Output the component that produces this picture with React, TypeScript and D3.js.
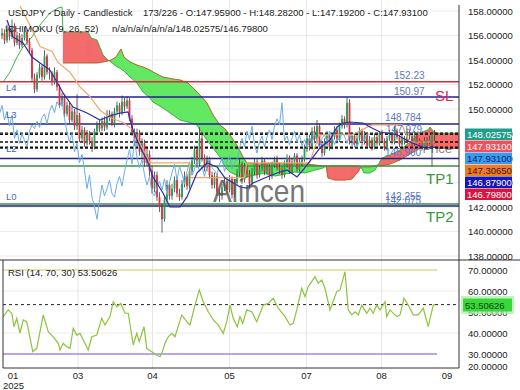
import React from "react";
import * as d3 from "d3";

const W = 520;
const H = 390;

// ---------- candles (daily USDJPY) ----------
const firstOpen = 156.0;
const closes = [
  156.2, 155.6, 156.5, 155.9, 156.8, 155.4, 156.0, 155.2, 155.8, 156.3,
  155.5, 154.8, 152.5, 151.6, 152.8, 153.4, 152.6, 154.3, 153.0, 152.9,
  152.2, 153.0, 151.8, 150.4, 150.9, 149.6, 150.3, 149.1, 149.8, 148.6,
  149.5, 147.6, 148.3, 147.2, 148.0, 147.4, 146.9, 148.2, 148.7, 148.4,
  149.0, 148.5, 149.3, 149.6, 148.8, 149.8, 150.3, 149.7, 150.6, 150.2,
  150.7, 149.2, 148.1, 147.3, 148.0, 146.5, 147.2, 145.6, 146.3, 145.0,
  143.5, 144.6, 142.8, 142.0, 141.0, 142.6, 143.8, 142.9, 143.5, 144.2,
  143.1, 142.8, 143.9, 144.5, 143.7, 144.9, 145.8, 146.7, 145.5, 147.6,
  146.0, 145.2, 145.9, 144.6, 143.8, 144.5, 143.2, 142.9, 143.6, 144.1,
  143.4, 144.3, 143.0, 144.0, 144.8, 145.5, 144.2, 145.3, 144.7, 143.9,
  144.9, 145.7, 144.6, 145.1, 145.8, 144.9, 145.3, 144.5, 145.4, 145.9,
  145.2, 145.0, 144.6, 145.5, 146.0, 144.9, 145.7, 146.2, 145.1, 145.6,
  145.9, 146.8, 147.6, 146.9, 148.2, 147.5, 148.6, 147.1, 146.4, 147.3,
  147.8, 146.9, 147.7, 148.3, 147.5, 148.6, 149.2, 148.7, 150.5, 147.4,
  147.8, 147.1, 147.6, 148.2, 147.3, 147.9, 147.0, 147.5, 146.9, 147.7,
  147.2, 148.0, 147.4, 146.8, 147.6, 147.9, 147.3, 148.2, 147.7, 147.1,
  147.6, 147.4, 148.1, 147.8, 147.2, 147.9, 147.5, 147.0, 146.9, 147.4,
  147.3, 147.5, 147.959, 147.931,
];
const highs = [
  156.6, 156.5, 156.9, 156.7, 157.3, 157.0, 156.3, 156.2, 156.1, 156.7,
  156.5, 155.8, 155.0, 152.9, 153.0, 153.7, 153.6, 154.8, 154.5, 153.4,
  153.1, 153.4, 153.2, 152.0, 151.3, 151.1, 150.6, 150.5, 150.2, 150.0,
  151.2, 149.7, 148.6, 148.5, 148.3, 148.2, 147.7, 148.4, 149.0, 149.1,
  149.3, 149.4, 149.9, 149.9, 149.8, 150.1, 150.6, 150.5, 151.1, 150.9,
  151.0, 150.9, 149.5, 148.4, 148.4, 148.3, 147.6, 147.5, 146.8, 146.6,
  145.4, 144.9, 144.9, 143.2, 142.3, 142.9, 144.2, 144.0, 143.9, 144.5,
  144.4, 143.5, 144.2, 144.9, 144.7, 145.2, 146.1, 147.0, 147.0, 148.5,
  147.9, 146.3, 146.2, 146.1, 144.9, 144.8, 144.7, 143.5, 143.9, 144.4,
  144.4, 144.6, 144.5, 144.3, 145.1, 145.9, 145.7, 145.6, 145.5, 145.0,
  145.2, 146.0, 145.9, 145.4, 146.1, 146.0, 145.6, 145.5, 145.7, 146.1,
  146.2, 145.6, 145.3, 145.8, 146.3, 146.2, 146.0, 146.4, 146.4, 145.9,
  146.2, 147.1, 147.9, 147.9, 148.5, 148.6, 149.1, 148.8, 147.4, 147.6,
  148.2, 148.0, 147.9, 148.6, 148.5, 148.9, 149.5, 149.4, 150.97, 150.8,
  148.1, 148.0, 147.9, 148.5, 148.4, 148.2, 148.1, 147.8, 147.7, 148.0,
  147.9, 148.2, 148.3, 147.6, 147.8, 148.3, 148.1, 148.6, 148.4, 147.9,
  147.9, 147.8, 148.4, 148.3, 147.9, 148.2, 148.0, 147.6, 147.3, 147.7,
  147.7, 147.8, 148.1, 148.282,
];
const lows = [
  155.7, 155.3, 155.4, 155.6, 155.7, 155.1, 155.2, 154.9, 155.0, 155.6,
  155.2, 154.5, 152.2, 151.3, 151.4, 152.5, 152.3, 152.4, 152.8, 152.4,
  151.9, 152.0, 151.5, 150.1, 150.2, 149.3, 149.4, 148.8, 148.9, 148.3,
  148.3, 147.3, 147.3, 146.9, 147.0, 147.1, 146.5, 146.7, 147.9, 148.1,
  148.2, 148.2, 148.3, 149.0, 148.6, 148.5, 149.5, 149.3, 149.5, 149.8,
  150.0, 149.0, 147.8, 147.0, 146.9, 146.2, 146.0, 145.3, 145.3, 144.5,
  143.1, 143.2, 142.5, 141.6, 139.9, 140.8, 142.3, 142.6, 142.6, 143.2,
  142.8, 142.5, 142.6, 143.6, 143.4, 143.5, 144.6, 145.5, 145.2, 145.3,
  145.7, 144.9, 144.9, 144.3, 143.5, 143.5, 142.9, 142.4, 142.6, 143.3,
  143.1, 143.2, 142.7, 142.8, 143.8, 144.5, 143.9, 144.0, 144.4, 143.5,
  143.7, 144.6, 144.3, 144.4, 144.9, 144.6, 144.6, 144.2, 144.3, 145.2,
  145.0, 144.7, 144.3, 144.4, 145.2, 144.7, 144.7, 145.5, 144.9, 144.9,
  145.3, 145.7, 146.5, 146.6, 146.7, 147.2, 147.3, 146.9, 146.1, 146.2,
  147.0, 146.6, 146.7, 147.5, 147.2, 147.3, 148.4, 148.4, 148.5, 147.1,
  147.0, 146.9, 146.8, 147.4, 147.0, 147.1, 146.8, 146.8, 146.6, 146.7,
  147.0, 147.0, 147.2, 146.6, 146.6, 147.4, 147.1, 147.1, 147.5, 146.9,
  146.9, 147.1, 147.2, 147.5, 147.0, 147.0, 147.3, 146.8, 146.6, 146.7,
  147.0, 147.1, 145.3, 147.192,
];

// ---------- Ichimoku lines ----------
const tenkanIdx = [2, 4.4, 8.4, 12, 15.2, 19.2, 22, 24.4, 28.4, 34, 39.2, 43.2, 47.2, 50.4, 52.4, 55.2, 58, 60.4, 64.4, 67.2, 71.2, 74, 78, 82, 86, 89.2, 95.2, 98, 100.4, 106, 110, 114, 118, 120.4, 124.4, 127.2, 131.2, 134, 136.4, 139.2, 144.4, 147.2, 151.2, 158, 163.2, 169.2, 173.2];
const tenkanVal = [157.27, 155.88, 155.39, 154.24, 153.76, 153.18, 152.2, 151.31, 150.16, 149.67, 149.1, 149.43, 149.67, 149.76, 148.29, 146.9, 145.84, 144.45, 143.14, 142.0, 142.0, 142.82, 144.78, 145.59, 145.27, 144.37, 143.63, 143.55, 143.96, 144.45, 144.78, 145.02, 144.45, 145.02, 146.08, 146.82, 147.47, 148.53, 148.86, 148.94, 148.86, 148.53, 148.12, 147.9, 147.3, 146.82, 146.879];

const kijunIdx = [7.2, 10, 12, 15.2, 20, 22.4, 27.2, 31.2, 35.2, 39.2, 43.2, 48.4, 52.4, 59.2, 75, 75.4, 87, 97, 98, 123, 126, 127, 140, 148, 160, 163, 173.2];
const kijunVal = [158.4, 157.3, 156.5, 155.1, 154.7, 153.8, 153.0, 151.8, 151.0, 149.9, 149.3, 148.9, 148.3, 145.6, 145.6, 144.4, 144.4, 144.4, 145.6, 145.6, 147.4, 147.9, 147.9, 148.7, 148.7, 147.3, 147.3065];

const cloudIdx = [0.4, 3.2, 6, 8.4, 12, 15.2, 19.2, 22.4, 24,
  24.4, 34.4, 35.6, 38, 40.4, 42.4, 43.6, 45.6, 47.6, 48.8,
  51.2, 54, 56.4, 59.2, 60.4, 64.4, 68.4, 71.2, 74.4, 78,
  79.2, 82, 84.4, 87.2, 89.2, 91.2, 94.4, 96.4, 98, 101.2,
  105.2, 109.2, 113.2, 117.2, 121.2, 125.2, 128.4, 129.6, 130.4, 133.2,
  137.2, 140, 142.4, 143.6, 144.8, 147.2, 149.2, 150.4, 152, 155.2,
  159.2, 163.2, 166, 168, 170.4, 171.2, 172.4, 174, 183.2];
const spanA: (number | null)[] = [null, null, null, null, null, null, null, null, null,
  153.76, 153.76, 153.76, 153.76, 153.84, 153.92, 154.0, 154.24, 154.9, 154.24,
  153.84, 153.59, 153.43, 153.18, 153.02, 152.61, 152.45, 152.37, 152.12, 151.39,
  151.14, 150.49, 149.51, 148.69, 148.37, 147.88, 146.9, 146.08, 145.59, 145.51,
  145.51, 145.59, 145.51, 145.51, 145.51, 145.43, 145.35, 145.35, 144.37, 144.2,
  144.2, 144.29, 144.86, 145.27, 145.27, 145.27, 145.35, 145.43, 145.35, 145.51,
  145.84, 146.33, 146.65, 146.9, 146.98, 146.98, 146.98, 146.798, 146.798];
const spanB = [152.2, 153.02, 154.24, 155.06, 155.88, 156.86, 157.84, 158.24, 158.33,
  156.29, 156.29, 155.8, 155.63, 154.41, 154.0, 153.84, 153.51, 153.27, 153.1,
  152.61, 152.12, 151.39, 150.9, 150.57, 150.08, 149.51, 149.1, 148.94, 148.69,
  148.29, 147.47, 146.82, 146.08, 145.27, 144.86, 144.53, 144.37, 144.45, 144.61,
  144.78, 144.53, 144.69, 144.86, 144.78, 145.02, 145.18, 145.35, 145.35, 145.35,
  145.35, 145.35, 145.35, 145.27, 144.78, 144.78, 145.02, 145.43, 146.0, 146.24,
  146.65, 147.31, 147.88, 148.12, 148.29, 148.53, 148.2, 148.026, 148.026];

// ---------- RSI ----------
const rsiIdx = [0.5, 2.5, 3.9, 4.8, 5.9, 7.2, 8.5, 9.9, 12.3, 13.9, 16.5, 18.5, 20.5, 22.5, 23.2, 24.5, 25.9, 27.2, 28.5, 29.9, 31.2, 34.5, 35.9, 37.9, 39.9, 41.2, 43.2, 44.5, 45.9, 47.5, 49.2, 50.5, 52.5, 53.9, 54.9, 56.8, 57.9, 59.9, 61.9, 63.2, 63.9, 65.2, 66.5, 67.9, 69.2, 71.9, 73.9, 75.2, 77.2, 78.9, 80.5, 82.5, 84.5, 86.5, 88.5, 89.9, 91.2, 92.5, 94.1, 95.2, 96.3, 97.9, 99.9, 101.9, 104.5, 106.5, 108.5, 110.5, 113.2, 115.2, 116.5, 117.9, 119.9, 121.2, 122.5, 125.2, 126.5, 127.9, 129.2, 131.2, 133.9, 135.2, 137.2, 138.5, 139.9, 141.2, 142.5, 143.9, 145.9, 147.2, 148.5, 149.9, 151.2, 153.2, 153.9, 155.2, 157.9, 159.2, 160.8, 162.5, 164.5, 166.5, 168.5, 170.5, 172.5, 173.2];
const rsiVal = [47.8, 51, 49.4, 43, 47, 39.9, 46.2, 45.4, 31.1, 32.7, 48.6, 40.6, 38.2, 35.1, 31.9, 35.1, 33.5, 32.7, 42.2, 39, 39.8, 31.9, 38.2, 39, 47, 43.8, 47.8, 54.9, 52.5, 54.1, 49.4, 49.4, 34.3, 39.8, 35.9, 43, 32.7, 31.1, 29.5, 28.7, 30.3, 35.1, 38.2, 39.8, 38.2, 48.6, 45.4, 43.8, 53.3, 60.5, 54.9, 50.1, 46.2, 43.8, 39.8, 45.4, 53.3, 47, 43, 47.8, 44.6, 51, 50.1, 45.4, 53.3, 54.1, 56.5, 51.8, 47.8, 43.8, 44.6, 51, 61.3, 57.3, 62.1, 66.8, 63.7, 65.2, 61.3, 51, 59.7, 60.5, 69.2, 51, 48.6, 50.1, 48.6, 53.3, 49.4, 51.8, 49.4, 53.3, 51, 54.9, 47.8, 51, 47.8, 48.6, 56.5, 53.3, 48.6, 48.6, 51.8, 43, 53.3, 53.50626];
const rsiCurrent = 53.50626;
const rsiTicks = [70, 60, 50, 40, 30, 20];

// ---------- levels / labels ----------
const priceTicks = [158, 156, 154, 152, 150, 148, 146, 144, 142, 140, 138];
const levelValues = [152.23, 150.97, 148.784, 145.96, 145.35, 142.255, 142.075];
const levelKinds = ["red", "navy", "navy", "navy", "green", "green", "navy"];
const levelLabels = ["152.23", "150.97", "148.784", "145.960", "", "142.255", "142.075"];
const levelNames = ["", "L4", "L3", "L2", "", "", "L0"];
const extraLabel = { value: 147.979, text: "147.979" };
const dottedValues = [148.02575, 147.931, 147.3065, 146.879, 146.798];
const boxValues = ["148.02575", "147.93100", "147.93100", "147.30650", "146.87900", "146.79800"];
const monthIdx = [4.4, 30.4, 60.2, 91, 121.8, 151.8, 178];
const monthLabels = ["01", "03", "04", "05", "07", "08", "09"];

const FONT = "'Liberation Sans', Arial, sans-serif";

export default function App() {
  const xS = d3.scaleLinear().domain([0, 183.2]).range([2, 460]);
  const yP = d3.scaleLinear().domain([138, 158]).range([256, 11]);
  const yR = d3.scaleLinear().domain([30, 70]).range([354, 270]);

  const opens = closes.map((c, i) => (i === 0 ? firstOpen : closes[i - 1]));

  const cloudPts = cloudIdx.map((d, i) => ({ i: d, a: spanA[i], b: spanB[i] }));

  // cloud polygons: green where span A is above span B, red otherwise
  const polys: { d: string; g: boolean }[] = [];
  const poly = (pts: number[][]) => "M" + pts.map((p) => p[0].toFixed(2) + "," + p[1].toFixed(2)).join("L") + "Z";
  for (let k = 0; k < cloudPts.length - 1; k++) {
    const p0 = cloudPts[k];
    const p1 = cloudPts[k + 1];
    if (p0.a == null || p1.a == null) continue;
    const x0 = xS(p0.i), x1 = xS(p1.i);
    const a0 = yP(p0.a), a1 = yP(p1.a), b0 = yP(p0.b), b1 = yP(p1.b);
    const d0 = p0.a - p0.b, d1 = p1.a - p1.b;
    if ((d0 >= 0 && d1 >= 0) || (d0 <= 0 && d1 <= 0)) {
      polys.push({ d: poly([[x0, a0], [x1, a1], [x1, b1], [x0, b0]]), g: d0 + d1 >= 0 });
    } else {
      const t = d0 / (d0 - d1);
      const xc = x0 + t * (x1 - x0);
      const yc = a0 + t * (a1 - a0);
      polys.push({ d: poly([[x0, a0], [xc, yc], [x0, b0]]), g: d0 > 0 });
      polys.push({ d: poly([[xc, yc], [x1, a1], [x1, b1]]), g: d1 > 0 });
    }
  }

  const lineA = d3.line<any>().defined((p) => p.a != null).x((p) => xS(p.i)).y((p) => yP(p.a))(cloudPts) || "";
  const lineB = d3.line<any>().x((p) => xS(p.i)).y((p) => yP(p.b))(cloudPts) || "";

  const tenkan = d3.line<number>().x((d, i) => xS(tenkanIdx[i])).y((d) => yP(d))(tenkanVal) || "";
  const kijun = d3.line<number>().x((d, i) => xS(kijunIdx[i])).y((d) => yP(d))(kijunVal) || "";
  const chikou = d3.line<number>().x((d, i) => xS(i - 26)).y((d) => yP(d))(closes) || "";
  const rsiLine = d3.line<number>().x((d, i) => xS(rsiIdx[i])).y((d) => yR(d))(rsiVal) || "";

  const levelColor: Record<string, string> = { red: "#d22d3c", navy: "#22228a", green: "#3f8f3f" };
  const boxFill = ["#1f9e8b", "#f0505a", "#3c9be6", "#f07a2a", "#1616b4", "#d6163e"];
  const boxText = ["#ffffff", "#ffffff", "#10208a", "#3a1a00", "#ffffff", "#ffffff"];

  const txt = { fontFamily: FONT, fontSize: 9.5, fill: "#222" } as const;

  return (
    <svg width={W} height={H} style={{ display: "block", position: "absolute", left: 0, top: 0, background: "#fff" }}>
      <defs>
        <clipPath id="mainClip"><rect x={0} y={0} width={459} height={259} /></clipPath>
      </defs>
      <rect x={0} y={0} width={W} height={H} fill="#fff" />

      {/* grid */}
      {priceTicks.map((p) => (
        <line key={"hg" + p} x1={0} x2={459} y1={yP(p)} y2={yP(p)} stroke="#ececec" />
      ))}
      {[60, 40].map((v) => (
        <line key={"rg" + v} x1={3} x2={459} y1={yR(v)} y2={yR(v)} stroke="#ececec" />
      ))}
      {monthIdx.slice(1, 6).map((m) => (
        <line key={"vg" + m} x1={xS(m)} x2={xS(m)} y1={0} y2={368} stroke="#e6e6e6" />
      ))}

      <text x={452} y={153} textAnchor="end" fontFamily={FONT} fontSize={13} fill="#888">Price</text>

      <g clipPath="url(#mainClip)">
        {/* cloud */}
        {polys.map((p, i) => (
          <path key={"cl" + i} d={p.d} fill={p.g ? "#63e863" : "#f36b6b"} stroke={p.g ? "#63e863" : "#f36b6b"} strokeWidth={0.3} />
        ))}
        <path d={lineA} fill="none" stroke="#b8642c" strokeWidth={1} />
        <path d={lineB} fill="none" stroke="#3fb34a" strokeWidth={1} />

        {/* levels */}
        {levelValues.map((v, i) => (
          <line key={"lv" + i} x1={0} x2={459} y1={yP(v)} y2={yP(v)} stroke={levelColor[levelKinds[i]]} strokeWidth={1.5} />
        ))}
        {dottedValues.map((v, i) => (
          <line key={"dv" + i} x1={0} x2={459} y1={yP(v)} y2={yP(v)} stroke="#111" strokeWidth={1.3} strokeDasharray="3,2" />
        ))}

        {/* candles */}
        {closes.map((c, i) => {
          const o = opens[i];
          const up = c >= o;
          const x = xS(i);
          const top = yP(Math.max(o, c));
          const bot = yP(Math.min(o, c));
          return (
            <g key={"c" + i}>
              <line x1={x} x2={x} y1={yP(highs[i])} y2={yP(lows[i])} stroke="#3a3a3a" strokeWidth={0.8} />
              <rect x={x - 0.9} y={top} width={1.8} height={Math.max(0.8, bot - top)} fill={up ? "#24a05a" : "#e0303e"} />
            </g>
          );
        })}

        {/* ichimoku lines */}
        <path d={chikou} fill="none" stroke="#6aaee6" strokeWidth={1} />
        <path d={kijun} fill="none" stroke="#f2a56a" strokeWidth={1.2} />
        <path d={tenkan} fill="none" stroke="#2c2cae" strokeWidth={1.2} />
      </g>

      {/* watermark */}
      <text x={213} y={202} fontFamily={FONT} fontSize={32} fill="#555" opacity={0.8} textLength={92} lengthAdjust="spacingAndGlyphs">Alincen</text>

      {/* level labels */}
      {levelValues.map((v, i) =>
        levelLabels[i] ? (
          <text key={"ll" + i} x={levelLabels[i].length === 6 ? 394 : 385} y={yP(v) - (v === 142.255 ? 4 : 2.5)} fontFamily={FONT} fontSize={10} fill="#5a78c8">{levelLabels[i]}</text>
        ) : null
      )}
      <text x={386} y={yP(extraLabel.value) - 1} fontFamily={FONT} fontSize={10} fill="#5a78c8">{extraLabel.text}</text>
      {levelValues.map((v, i) =>
        levelNames[i] ? (
          <text key={"ln" + i} x={6} y={yP(v) - 6} fontFamily={FONT} fontSize={9.5} fill="#4a66b8">{levelNames[i]}</text>
        ) : null
      )}
      <text x={435} y={101} fontFamily={FONT} fontSize={15} fill="#e0284f">SL</text>
      <text x={426} y={184} fontFamily={FONT} fontSize={15} fill="#3a963a">TP1</text>
      <text x={426} y={222} fontFamily={FONT} fontSize={15} fill="#3a963a">TP2</text>

      {/* header */}
      <text x={8} y={16} {...txt}>USDJPY - Daily - Candlestick</text>
      <text x={143} y={16} {...txt}>173/226 - O:147.95900 - H:148.28200 - L:147.19200 - C:147.93100</text>
      <text x={5} y={32} {...txt}>ICHIMOKU (9, 26, 52)</text>
      <text x={112} y={32} {...txt}>n/a/n/a/n/a/n/a/148.02575/146.79800</text>

      {/* RSI panel */}
      <line x1={3} x2={437} y1={yR(70)} y2={yR(70)} stroke="#e4da8e" strokeWidth={1.5} />
      <line x1={3} x2={437} y1={yR(30)} y2={yR(30)} stroke="#a384ee" strokeWidth={1.5} />
      <line x1={3} x2={459} y1={yR(rsiCurrent)} y2={yR(rsiCurrent)} stroke="#222" strokeWidth={1} strokeDasharray="3,3" />
      <path d={rsiLine} fill="none" stroke="#8cc43c" strokeWidth={1.2} />
      <text x={8} y={276} {...txt}>RSI (14, 70, 30)   53.50626</text>

      {/* frames */}
      <line x1={0} x2={W} y1={260} y2={260} stroke="#333" />
      <line x1={3} x2={459} y1={368} y2={368} stroke="#333" />
      <line x1={3} x2={3} y1={260} y2={368} stroke="#333" />
      <line x1={459} x2={459} y1={5} y2={368} stroke="#333" />

      {/* price axis */}
      {priceTicks.map((p) => (
        <text key={"pt" + p} x={468} y={yP(p) + 3.5} {...txt}>{p.toFixed(5)}</text>
      ))}
      {boxValues.map((b, i) => (
        <g key={"bx" + i}>
          <rect x={465} y={128.5 + i * 12} width={47} height={11.5} fill={boxFill[i]} />
          <text x={467} y={137.8 + i * 12} fontFamily={FONT} fontSize={9.5} fill={boxText[i]}>{b}</text>
        </g>
      ))}

      {/* RSI axis */}
      {rsiTicks.map((v) => (
        <text key={"rt" + v} x={468} y={Math.min(yR(v), 366) + 3.5} {...txt}>{v.toFixed(5)}</text>
      ))}
      <rect x={461} y={296} width={53} height={18} fill="#a6f0a6" opacity={0.7} />
      <rect x={463} y={298.5} width={49} height={13} fill="#38d838" />
      <text x={465} y={308.5} fontFamily={FONT} fontSize={9.5} fill="#0c3a0c">53.50626</text>

      {/* time axis */}
      {monthIdx.map((m, i) => (
        <text key={"mt" + i} x={xS(m)} y={379} textAnchor="middle" {...txt}>{monthLabels[i]}</text>
      ))}
      <text x={3} y={389} {...txt}>2025</text>
    </svg>
  );
}
